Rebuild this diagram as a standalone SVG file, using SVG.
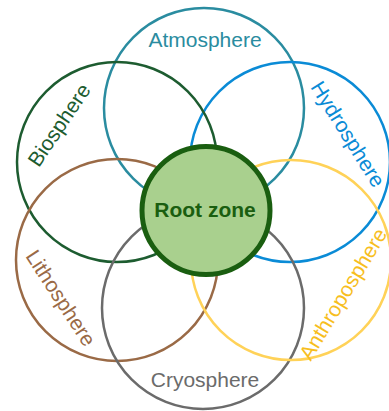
<svg xmlns="http://www.w3.org/2000/svg" width="389" height="411" viewBox="0 0 389 411">
<style>
.ring{fill:none;stroke-width:2.5}
.lbl{font-family:"Liberation Sans",Arial,sans-serif;font-size:21px;text-anchor:middle}
</style>
<rect width="389" height="411" fill="#ffffff"/>
<g id="atmosphere">
<circle class="ring" cx="204" cy="108" r="100" stroke="#2A8CA0"/>
<text class="lbl" x="205" y="47" fill="#2A8CA0">Atmosphere</text>
</g>
<g id="hydrosphere">
<circle class="ring" cx="290" cy="162" r="100" stroke="#0A8BD6"/>
<text class="lbl" transform="translate(348,134) rotate(58)" dy="0.35em" fill="#0A8BD6">Hydrosphere</text>
</g>
<g id="biosphere">
<circle class="ring" cx="117" cy="162" r="100" stroke="#1D5C30"/>
<text class="lbl" transform="translate(59,125) rotate(-56)" dy="0.35em" fill="#1D5C30">Biosphere</text>
</g>
<g id="lithosphere">
<circle class="ring" cx="117" cy="260" r="101" stroke="#9A6A46"/>
<text class="lbl" transform="translate(61,298) rotate(57)" dy="0.35em" fill="#9A6A46">Lithosphere</text>
</g>
<g id="cryosphere">
<circle class="ring" cx="203" cy="308" r="101" stroke="#6B6B6B"/>
<text class="lbl" x="205" y="387" fill="#6B6B6B">Cryosphere</text>
</g>
<g id="anthroposphere">
<circle class="ring" cx="291" cy="260" r="100" stroke="#FFD258"/>
<text class="lbl" transform="translate(343,294) rotate(-59)" dy="0.35em" font-size="19.5" fill="#F7BE1E">Anthroposphere</text>
</g>
<g id="rootzone">
<circle cx="206" cy="210.5" r="64" fill="#A9D08E" stroke="#1A5E10" stroke-width="5"/>
<text class="lbl" x="205" y="217" fill="#1A5E10" font-weight="bold">Root zone</text>
</g>
</svg>
